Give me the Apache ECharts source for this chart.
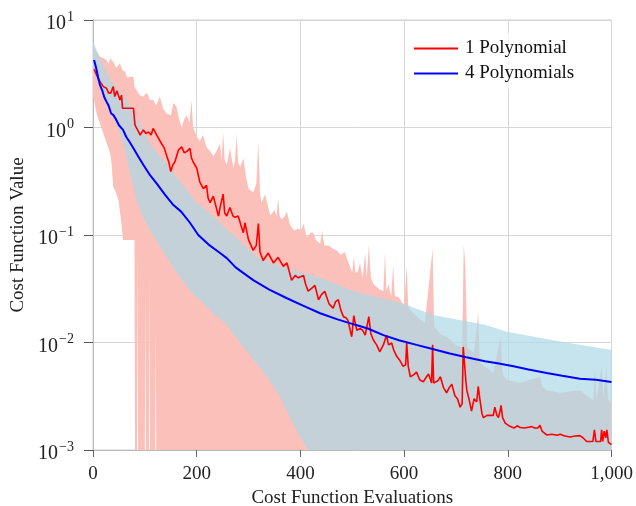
<!DOCTYPE html>
<html><head><meta charset="utf-8">
<script src="https://cdn.jsdelivr.net/npm/echarts@6/dist/echarts.min.js"></script>
<style>html,body{margin:0;padding:0;background:#fff}#c{width:636px;height:506px}</style>
</head><body><div id="c"></div><script>
// ---------- data ----------
const xTickLabels = ['0','200','400','600','800','1,000'];
const yTickExponents = {'-3':'−3','-2':'−2','-1':'−1','0':'0','1':'1'};
const seriesNames = ['1 Polynomial','4 Polynomials'];

// mean cost, 1 polynomial (red line)
const redMeanX = [2,8,13.5,20,26,30,34,39,42,46,49,52,55,57,78,81,86,91,97,102,107,112,116,123,132,137,142,146,150,154,158,165,171,176,181,187,190,193,200,206,213,219,222,226,232,235,242,245,251,254,258,264,270,274,280,287,290,293,300,309,315,319,322,328,338,348,357,367,374,383,390,396,406,410,415,422,428,435,441,447,455,463,468,473,478,483,488,492,496,499,503,506,509,515,520,525,532,536,541,547,553,560,566,570,576,580,586,592,598,603,605,608,612,618,624,630,637,642,647,651,653,655,657,660,665,670,676,682,687,692,698,703,708,712,714,717,719,721,725,730,735,740,743,746,750,753,760,767,772,775,779,782,785,787,790,795,804,812,818,824,832,840,846,852,858,862,866,875,885,895,901,910,920,930,939,945,952,960,964,967,970,975,979,981,983,986,989,991,994,1000];
const redMeanY = [3.48,3.0,2.67,2.40,2.32,2.1,2.08,2.40,1.94,2.2,2.15,1.8,2.0,1.51,1.51,1.05,0.95,0.85,0.95,0.88,0.91,0.85,0.98,0.85,0.71,0.65,0.55,0.48,0.39,0.45,0.48,0.62,0.66,0.58,0.60,0.64,0.52,0.48,0.42,0.31,0.27,0.29,0.22,0.20,0.23,0.23,0.15,0.18,0.24,0.16,0.15,0.18,0.15,0.146,0.15,0.116,0.105,0.13,0.09,0.072,0.08,0.128,0.07,0.058,0.068,0.055,0.062,0.051,0.055,0.038,0.042,0.040,0.042,0.035,0.030,0.032,0.034,0.025,0.028,0.030,0.023,0.0208,0.024,0.025,0.020,0.0174,0.017,0.016,0.013,0.0113,0.0178,0.0150,0.013,0.0135,0.013,0.0117,0.0174,0.012,0.0105,0.0095,0.0082,0.0095,0.0117,0.0095,0.0099,0.0085,0.0074,0.0068,0.006,0.0062,0.0099,0.006,0.0048,0.0050,0.0053,0.0045,0.0043,0.0047,0.0051,0.0045,0.0042,0.0095,0.0042,0.0041,0.0044,0.0048,0.0038,0.0034,0.0038,0.0041,0.0032,0.0030,0.0025,0.0027,0.0091,0.0088,0.0045,0.0036,0.0030,0.0023,0.0030,0.0028,0.0039,0.0030,0.0022,0.0020,0.0021,0.0021,0.0021,0.0025,0.0021,0.0020,0.0023,0.0026,0.0020,0.00178,0.00166,0.0016,0.00168,0.00162,0.0016,0.00163,0.00165,0.0016,0.0016,0.0017,0.0015,0.00138,0.0014,0.00137,0.0014,0.00135,0.00132,0.00135,0.00136,0.0013,0.0012,0.0012,0.0012,0.00154,0.0012,0.0012,0.0012,0.00154,0.0012,0.0015,0.0013,0.00154,0.00118,0.00112];

// band (min / max), 1 polynomial
const redUpperX = [0,5,13.5,20,26,30,33,39,45,52,57,62,66,71,78,80,84,90,97,104,110,116,122,129,135,142,150,155,161,166,171,176,181,186,190,193,200,206,212,219,226,232,238,245,248,251,254,258,264,268,271,274,277,280,284,290,295,300,309,315,319,322,325,332,338,342,350,354,357,360,364,370,374,380,388,396,401,406,412,420,425,430,438,442,446,455,462,470,478,485,490,496,500,503,506,510,515,520,525,528,532,536,541,553,560,563,566,570,575,579,582,589,600,605,608,612,624,640,655,658,670,685,700,712,715,718,722,735,743,746,772,786,790,798,824,862,866,875,901,939,965,968,971,981,984,990,993,1000];
const redUpperY = [6.0,5.3,4.56,4.4,4.25,3.9,4.4,4.1,3.6,3.96,3.4,3.3,2.9,2.97,2.97,2.4,2.23,2.0,1.94,2.1,1.8,1.8,1.6,1.94,1.5,1.35,1.3,1.7,1.56,1.2,1.0,1.2,1.3,1.1,1.8,1.0,0.82,0.75,0.85,0.66,0.6,0.54,0.6,0.71,0.5,0.91,0.5,0.45,0.64,0.5,0.42,0.5,0.88,0.47,0.43,0.52,0.35,0.27,0.25,0.3,0.74,0.25,0.2,0.24,0.18,0.153,0.17,0.15,0.22,0.15,0.14,0.15,0.165,0.124,0.11,0.115,0.11,0.128,0.096,0.105,0.105,0.09,0.083,0.11,0.08,0.08,0.075,0.072,0.065,0.07,0.06,0.05,0.045,0.063,0.045,0.045,0.055,0.04,0.068,0.04,0.081,0.04,0.035,0.031,0.03,0.068,0.03,0.035,0.027,0.052,0.027,0.0267,0.022,0.052,0.022,0.02,0.0175,0.015,0.075,0.014,0.012,0.011,0.0095,0.009,0.081,0.055,0.009,0.008,0.019,0.0065,0.0052,0.0113,0.005,0.0045,0.0042,0.0048,0.0039,0.0036,0.0034,0.0036,0.0029,0.0058,0.0029,0.006,0.003,0.006,0.003,0.0027];
const redLowerX = [0,7,20,33,36,39,44,49,53,58,80,81,85,86,87,100,101,102,108,109,110,120,121,122,1000];
const redLowerY = [2.0,1.35,0.88,0.58,0.45,0.28,0.25,0.21,0.15,0.09,0.09,0.0005,0.0005,0.076,0.0005,0.0005,0.03,0.0005,0.0005,0.044,0.0005,0.0005,0.013,0.0005,0.0005];

// mean cost, 4 polynomials (blue line)
const blueMeanX = [2,6,10,13.5,18,22,26,30,35,39,44,50,58,64,70,78,87,97,110,123,138,155,170,187,203,225,245,258,275,309,340,374,405,438,470,506,530,560,590,624,655,688,720,756,780,811,840,875,905,939,970,1000];
const blueMeanY = [4.25,3.6,2.9,2.48,2.2,1.9,1.74,1.6,1.35,1.31,1.2,1.05,0.95,0.82,0.74,0.64,0.54,0.45,0.36,0.30,0.24,0.19,0.165,0.13,0.1,0.08,0.068,0.061,0.05,0.038,0.031,0.0258,0.022,0.0187,0.0165,0.0146,0.0135,0.0117,0.0105,0.0095,0.0087,0.0079,0.0073,0.0067,0.0064,0.006,0.0056,0.0052,0.0049,0.0046,0.0045,0.0043];

// band (min / max), 4 polynomials
const blueUpperX = [0,7,20,33,50,65,80,91,110,142,174,200,219,239,271,303,322,374,438,506,598,656,756,798,901,1000];
const blueUpperY = [6.3,5.2,3.8,2.76,2.2,1.8,1.35,1.09,0.7,0.46,0.29,0.2,0.17,0.138,0.1,0.072,0.06,0.049,0.04,0.0297,0.023,0.018,0.0146,0.0126,0.0102,0.0085];
const blueLowerX = [0,4,20,33,45,52,62,71,78,84,95,104,110,120,129,149,165,181,197,213,235,255,270,284,297,309,322,335,348,361,370,380,390,399,407,415,430,1000];
const blueLowerY = [3.2,3.0,2.0,1.46,1.1,0.89,0.6,0.38,0.28,0.21,0.15,0.125,0.11,0.092,0.078,0.055,0.042,0.033,0.027,0.023,0.018,0.0151,0.012,0.0099,0.0083,0.0069,0.0058,0.0048,0.0039,0.0031,0.0025,0.002,0.0016,0.00133,0.00115,0.001,0.0008,0.0008];

// ---------- chart ----------
const FONT = 'Liberation Serif';
const Y_MIN = 0.001, Y_MAX = 10;
function zip(xs, ys){ return xs.map((x,i)=>[x, ys[i]]); }
function band(name, ux, uy, lx, ly, color){
  return {
    type:'custom', name, silent:true, coordinateSystem:'cartesian2d',
    data:[[0, 1]], encode:{x:0, y:1},
    renderItem:function(params, api){
      const c = v => Math.min(Math.max(v, Y_MIN), Y_MAX);
      const pts = [];
      for (let i=0;i<ux.length;i++) pts.push(api.coord([ux[i], c(uy[i])]));
      for (let i=lx.length-1;i>=0;i--) pts.push(api.coord([lx[i], c(ly[i])]));
      return {type:'polygon', shape:{points:pts}, style:{fill:color}};
    }
  };
}
const chart = echarts.init(document.getElementById('c'), null, {renderer:'canvas'});
chart.setOption({
  animation:false,
  textStyle:{fontFamily:FONT},
  grid:{left:93, right:24.5, top:20, bottom:56, show:true, borderColor:'#cccccc', borderWidth:1,
    backgroundColor:'transparent', containLabel:false, outerBoundsMode:'none'},
  legend:{
    data:seriesNames, orient:'vertical', left:406, top:33, itemGap:6,
    itemWidth:44, itemHeight:2, icon:'rect',
    backgroundColor:'rgba(255,255,255,0.75)', padding:[6,8],
    textStyle:{fontFamily:FONT, fontSize:19, color:'#111', padding:[0,0,0,2]}
  },
  xAxis:{
    type:'value', min:0, max:1000, interval:200,
    name:'Cost Function Evaluations', nameLocation:'middle', nameGap:39,
    nameTextStyle:{fontFamily:FONT, fontSize:19, color:'#222'},
    axisLine:{show:true, lineStyle:{color:'#bbbbbb', width:1}},
    axisTick:{show:true, inside:false, length:7, lineStyle:{color:'#666', width:1}},
    axisLabel:{fontFamily:FONT, fontSize:19, color:'#222', margin:15,
      formatter:(v)=>xTickLabels[Math.round(v/200)]},
    splitLine:{show:true, lineStyle:{color:'#d6d6d6', width:1}}
  },
  yAxis:{
    type:'log', logBase:10, min:Y_MIN, max:Y_MAX,
    name:'Cost Function Value', nameLocation:'middle', nameGap:61,
    nameTextStyle:{fontFamily:FONT, fontSize:19, color:'#222'},
    axisLine:{show:true, lineStyle:{color:'#bbbbbb', width:1}},
    axisTick:{show:true, inside:false, length:9, lineStyle:{color:'#555', width:1}},
    minorTick:{show:false},
    axisLabel:{fontFamily:FONT, color:'#222', margin:19,
      formatter:(v)=>{const e=String(Math.round(Math.log10(v))); return '{b|10}{s|'+yTickExponents[e]+'}';},
      rich:{b:{fontFamily:FONT, fontSize:20, color:'#222', padding:[8,0,0,0]}, s:{fontFamily:FONT, fontSize:14, color:'#222', padding:[0,0,6,1]}}
    },
    splitLine:{show:true, lineStyle:{color:'#d6d6d6', width:1}}
  },
  series:[
    band('band1', redUpperX, redUpperY, redLowerX, redLowerY, '#fcc0ba'),
    band('band4', blueUpperX, blueUpperY, blueLowerX, blueLowerY, 'rgba(173,216,230,0.7)'),
    {type:'line', name:seriesNames[0], data:zip(redMeanX, redMeanY), showSymbol:false, symbol:'none',
      lineStyle:{color:'#ff0000', width:1.6}, itemStyle:{color:'#ff0000'}},
    {type:'line', name:seriesNames[1], data:zip(blueMeanX, blueMeanY), showSymbol:false, symbol:'none',
      lineStyle:{color:'#0000ff', width:2}, itemStyle:{color:'#0000ff'}}
  ]
});
</script></body></html>
